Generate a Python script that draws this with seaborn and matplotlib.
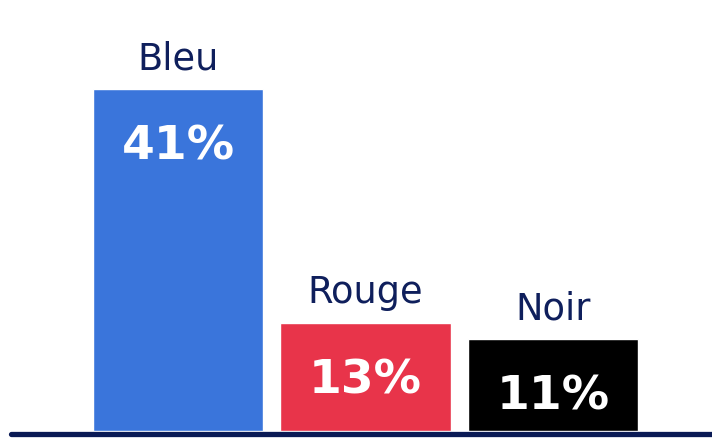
import pandas as pd
import matplotlib
matplotlib.use("Agg")
import matplotlib.pyplot as plt
import seaborn as sns

# Data
categories = ["Bleu", "Rouge", "Noir"]
values = [41, 13, 11]
colors = ["#3a75db", "#e8344a", "#000000"]

df = pd.DataFrame({"Couleur": categories, "Part": values})

sns.set_style("white")
plt.rcParams["font.family"] = ["DejaVu Sans"]

fig = plt.figure(figsize=(7.12, 4.39), dpi=100)
ax = fig.add_axes([0, 0, 1, 1])

sns.barplot(
    data=df,
    x="Couleur",
    y="Part",
    hue="Couleur",
    palette=colors,
    width=0.907,
    legend=False,
    saturation=1,
    ax=ax,
)

# scale: 342 px for 41 units
px = 342 / 41
ax.set_xlim(-178 / 187.5, (712 - 178) / 187.5)
ax.set_ylim(-7 / px, 432 / px)

# baseline
ax.axhline(-2.6 / px, xmin=11 / 712, xmax=1, color="#0a1a55", linewidth=3.8)

# labels
navy = "#0f1f5c"
for i, (cat, val) in enumerate(zip(categories, values)):
    ax.annotate(cat, (i, val), xytext=(0, 15), textcoords="offset points",
                ha="center", va="baseline", fontsize=26.5, color=navy)
    ax.annotate(f"{val}%", (i, val), xytext=(0, -50), textcoords="offset points",
                ha="center", va="baseline", fontsize=34, fontweight="bold", color="white")

ax.axis("off")
fig.savefig("out.png", dpi=100)
